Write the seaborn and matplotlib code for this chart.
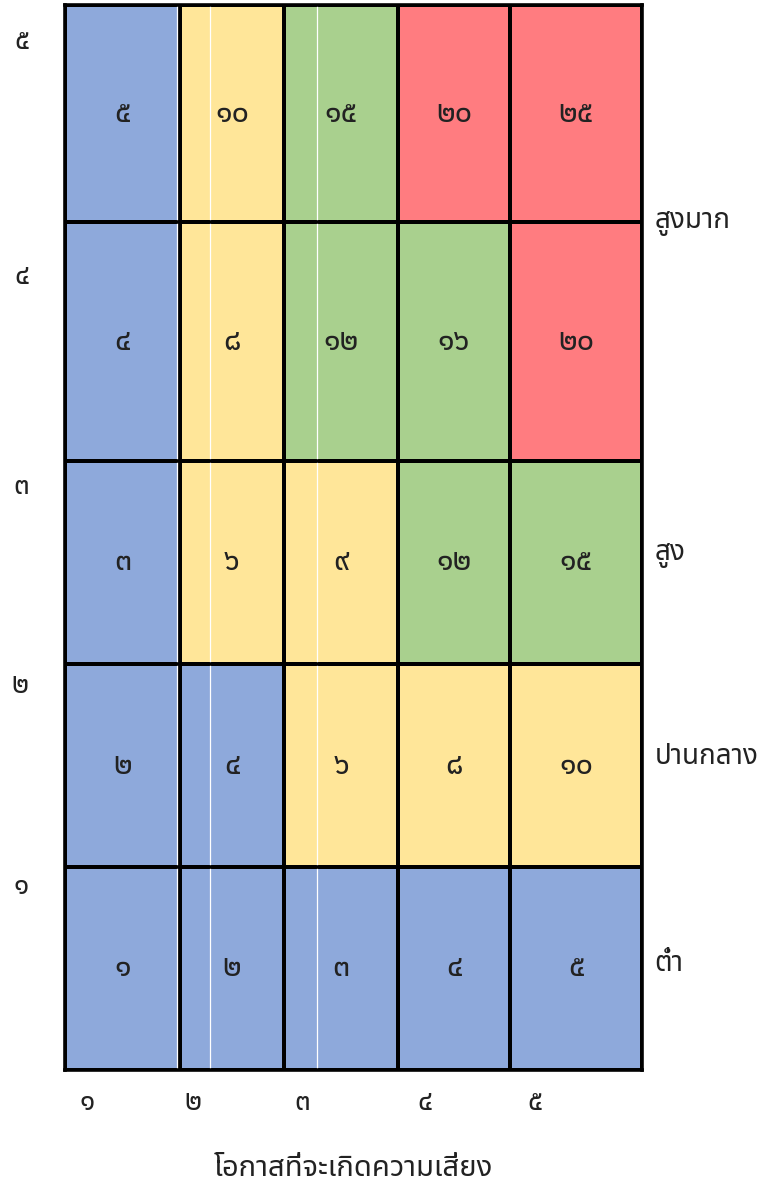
import numpy as np
import pandas as pd
import seaborn as sns
import matplotlib.pyplot as plt
from matplotlib.colors import ListedColormap

# ข้อมูลเมทริกซ์ความเสี่ยง (แถวบนสุด = ผลกระทบ ๕)
likelihood = [1, 2, 3, 4, 5]
impact = [5, 4, 3, 2, 1]
thai_digits = ["๐", "๑", "๒", "๓", "๔", "๕", "๖", "๗", "๘", "๙"]
x_ticklabels = ["๑", "๒", "๓", "๔", "๕"]
y_ticklabels = ["๕", "๔", "๓", "๒", "๑"]
level_names = ["สูงมาก", "สูง", "ปานกลาง", "ต่ำ"]
x_title = "โอกาสที่จะเกิดความเสี่ยง"

# ระดับสีของแต่ละช่อง: 0 = ต่ำ, 1 = ปานกลาง, 2 = สูง, 3 = สูงมาก
levels = [
    [0, 1, 2, 3, 3],
    [0, 1, 2, 2, 3],
    [0, 1, 1, 2, 2],
    [0, 0, 1, 1, 1],
    [0, 0, 0, 0, 0],
]
level_colors = ["#8EA9DB", "#FFE699", "#A9D08E", "#FF7C80"]

scores = np.outer(impact, likelihood)


def to_thai(n):
    return "".join(thai_digits[int(c)] for c in str(n))


annot = np.vectorize(to_thai)(scores)
df = pd.DataFrame(levels, index=impact, columns=likelihood)

sns.set_style("white")
plt.rcParams["font.family"] = ["Noto Sans Thai", "DejaVu Sans"]

fig = plt.figure(figsize=(7.61, 11.9), dpi=100)
ax = fig.add_axes([65 / 761, 1 - 1070 / 1190, 577 / 761, 1065 / 1190])

sns.heatmap(df, annot=annot, fmt="", cmap=ListedColormap(level_colors),
            vmin=-0.5, vmax=3.5, cbar=False, linewidths=2.6,
            linecolor="black", annot_kws={"fontsize": 22, "color": "#222222"},
            ax=ax)

# ความกว้าง/สูงของช่องในภาพต้นฉบับไม่เท่ากัน -> ใช้ function scale
col_px = np.array([65, 180, 284, 398, 510, 642], dtype=float)
row_px = np.array([5, 222, 461, 664, 867, 1070], dtype=float)


def make_scale(px):
    idx = np.arange(len(px), dtype=float)
    xp = np.concatenate([[-1000.0], idx, [1000.0]])
    lo = px[0] - 1000.0 * (px[1] - px[0])
    hi = px[-1] + (1000.0 - idx[-1]) * (px[-1] - px[-2])
    fp = np.concatenate([[lo], px, [hi]])
    fwd = lambda v: np.interp(v, xp, fp)
    inv = lambda v: np.interp(v, fp, xp)
    return fwd, inv


ax.set_xscale("function", functions=make_scale(col_px))
ax.set_yscale("function", functions=make_scale(row_px))
ax.set_xlim(0, 5)
ax.set_ylim(5, 0)

# เส้นขาวบาง ๆ ภายในบางคอลัมน์ แล้ววาดเส้นแบ่งแถวสีดำทับ
for xv in [0.975, 1.29, 2.29]:
    ax.axvline(xv, color="white", lw=0.9, zorder=1.5)
for yv in [1, 2, 3, 4]:
    ax.axhline(yv, color="black", lw=2.6, zorder=1.6)

for s in ax.spines.values():
    s.set_visible(True)
    s.set_linewidth(2.6)
    s.set_color("black")

# ตำแหน่งป้ายแกนตามภาพต้นฉบับ (ชิดขอบซ้าย/บนของช่อง)
ax.set_xticks([0.19, 1.12, 2.16, 3.24, 4.19])
ax.set_xticklabels(x_ticklabels, fontsize=20)
ax.set_yticks([0.17, 1.23, 2.13, 3.11, 4.10])
ax.set_yticklabels(y_ticklabels, fontsize=20, rotation=0)
ax.tick_params(axis="both", length=0, colors="#222222")
ax.tick_params(axis="x", pad=14)
ax.tick_params(axis="y", pad=26)

ax.set_xlabel(x_title, fontsize=21, labelpad=26, color="#222222")
ax.set_ylabel("")

level_y = [1.0, 2.46, 3.46, 4.48]
for name, yv in zip(level_names, level_y):
    ax.text(1.022, yv, name, transform=ax.get_yaxis_transform(),
            ha="left", va="center", fontsize=20, color="#222222")

fig.savefig("out.png", dpi=100)
